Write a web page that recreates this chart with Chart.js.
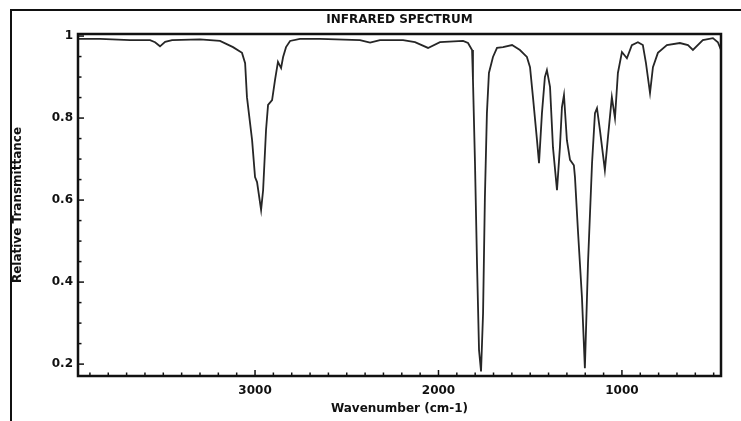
<!DOCTYPE html>
<html>
<head>
<meta charset="utf-8">
<script src="https://cdn.jsdelivr.net/npm/chart.js@4/dist/chart.umd.min.js"></script>
<style>
  html, body { margin: 0; padding: 0; background: #fff; }
  #wrap { position: relative; width: 741px; height: 421px; overflow: hidden; }
  #moldura {
    position: absolute; left: 10px; top: 9px; width: 760px; height: 430px;
    border-top: 2px solid #111; border-left: 2px solid #111;
  }
  canvas { position: absolute; left: 0; top: 0; }
</style>
</head>
<body>
<div id="wrap">
  <div id="moldura"></div>
  <canvas id="espectro" width="741" height="421"></canvas>
</div>
<script>
// ====== DADOS ======
const numerosOnda = [
  3965, 3845, 3681, 3572, 3545, 3518, 3490, 3452, 3300, 3191, 3120, 3071, 3054, 3044,
  3016, 3000, 2989, 2967, 2956, 2940, 2929, 2907, 2891, 2875, 2858, 2847, 2831, 2809,
  2755, 2646, 2428, 2373, 2319, 2193, 2128, 2057, 1992, 1866, 1839, 1817, 1812, 1801,
  1790, 1779, 1768, 1757, 1747, 1736, 1725, 1703, 1681, 1648, 1599, 1556, 1518, 1501,
  1485, 1463, 1452, 1436, 1420, 1409, 1392, 1376, 1354, 1338, 1327, 1316, 1300, 1283,
  1262, 1256, 1240, 1218, 1202, 1185, 1163, 1147, 1136, 1120, 1093, 1076, 1055, 1038,
  1022, 1000, 973, 946, 913, 886, 869, 847, 831, 804, 755, 684, 640, 613, 559, 504, 477, 460
];

const transmitancia = [
  0.993, 0.993, 0.99, 0.99, 0.985, 0.975, 0.986, 0.99, 0.992, 0.988, 0.973, 0.959, 0.934, 0.851,
  0.746, 0.656, 0.644, 0.576, 0.624, 0.771, 0.832, 0.844, 0.893, 0.937, 0.922, 0.949, 0.973, 0.988,
  0.993, 0.993, 0.99, 0.984, 0.99, 0.99, 0.985, 0.971, 0.985, 0.988, 0.983, 0.966, 0.893, 0.69,
  0.446, 0.234, 0.182, 0.324, 0.607, 0.812, 0.91, 0.949, 0.971, 0.973, 0.978, 0.966, 0.949, 0.924,
  0.851, 0.746, 0.69, 0.812, 0.9, 0.917, 0.876, 0.729, 0.624, 0.729, 0.827, 0.856, 0.746, 0.698,
  0.685, 0.656, 0.527, 0.363, 0.19, 0.446, 0.69, 0.812, 0.824, 0.771, 0.673, 0.754, 0.851, 0.8,
  0.91, 0.961, 0.946, 0.978, 0.985, 0.978, 0.934, 0.861, 0.924, 0.959, 0.978, 0.983, 0.978, 0.966,
  0.99, 0.995, 0.985, 0.966
];

const rotulosX = [3000, 2000, 1000];
const rotulosY = [0.2, 0.4, 0.6, 0.8, 1];

const fonte = { family: "'DejaVu Sans', sans-serif", size: 12, weight: "bold" };

// ====== TICKS PARA DENTRO + MOLDURA ======
const molduraPlugin = {
  id: "moldura",
  afterDraw(chart) {
    const { ctx, chartArea: a, scales: { x, y } } = chart;
    ctx.save();
    ctx.strokeStyle = "#111";
    ctx.lineWidth = 1.5;
    x.ticks.forEach(t => {
      const px = x.getPixelForValue(t.value);
      const len = rotulosX.includes(t.value) ? 6 : 3.5;
      ctx.beginPath();
      ctx.moveTo(px, a.bottom);
      ctx.lineTo(px, a.bottom - len);
      ctx.stroke();
    });
    y.ticks.forEach(t => {
      const py = y.getPixelForValue(t.value);
      const maior = rotulosY.some(v => Math.abs(v - t.value) < 1e-6);
      const len = maior ? 6 : 3.5;
      ctx.beginPath();
      ctx.moveTo(a.left, py);
      ctx.lineTo(a.left + len, py);
      ctx.stroke();
    });
    ctx.lineWidth = 2.5;
    ctx.strokeRect(a.left, a.top, a.right - a.left, a.bottom - a.top);
    ctx.restore();
  }
};

new Chart(document.getElementById("espectro"), {
  type: "line",
  data: {
    datasets: [{
      data: numerosOnda.map((w, i) => ({ x: w, y: transmitancia[i] })),
      borderColor: "#262626",
      borderWidth: 1.8,
      pointRadius: 0,
      tension: 0,
      fill: false
    }]
  },
  options: {
    responsive: false,
    animation: false,
    devicePixelRatio: 1,
    layout: { padding: { left: 11, top: 11, right: 20, bottom: 4 } },
    plugins: {
      legend: { display: false },
      tooltip: { enabled: false },
      title: {
        display: true,
        fullSize: false,
        text: "INFRARED SPECTRUM",
        color: "#111",
        font: fonte,
        padding: { top: 2, bottom: 6.6 }
      }
    },
    scales: {
      x: {
        type: "linear",
        reverse: true,
        min: 460,
        max: 3965,
        afterBuildTicks: s => {
          const t = [];
          for (let v = 500; v <= 3900; v += 100) t.push({ value: v });
          s.ticks = t;
        },
        afterFit: s => { s.height = 41; },
        grid: { display: false, drawTicks: false },
        border: { display: false },
        ticks: {
          autoSkip: false,
          maxRotation: 0,
          padding: 8,
          color: "#111",
          font: fonte,
          callback: v => (rotulosX.includes(v) ? String(v) : "")
        },
        title: {
          display: true,
          text: "Wavenumber (cm-1)",
          color: "#111",
          font: fonte,
          padding: { top: 2, bottom: 1 }
        }
      },
      y: {
        min: 0.171,
        max: 1.005,
        afterBuildTicks: s => {
          const t = [];
          for (let k = 4; k <= 20; k++) t.push({ value: k * 0.05 });
          s.ticks = t;
        },
        afterFit: s => { s.width = 67; },
        grid: { display: false, drawTicks: false },
        border: { display: false },
        ticks: {
          autoSkip: false,
          padding: 5,
          color: "#111",
          font: fonte,
          callback: v => {
            const r = rotulosY.find(l => Math.abs(l - v) < 1e-6);
            if (r === undefined) return "";
            return r === 1 ? "1" : r.toFixed(1);
          }
        },
        title: {
          display: true,
          text: "Relative Transmittance",
          color: "#111",
          font: fonte,
          padding: { top: 0, bottom: 0 }
        }
      }
    }
  },
  plugins: [molduraPlugin]
});
</script>
</body>
</html>
